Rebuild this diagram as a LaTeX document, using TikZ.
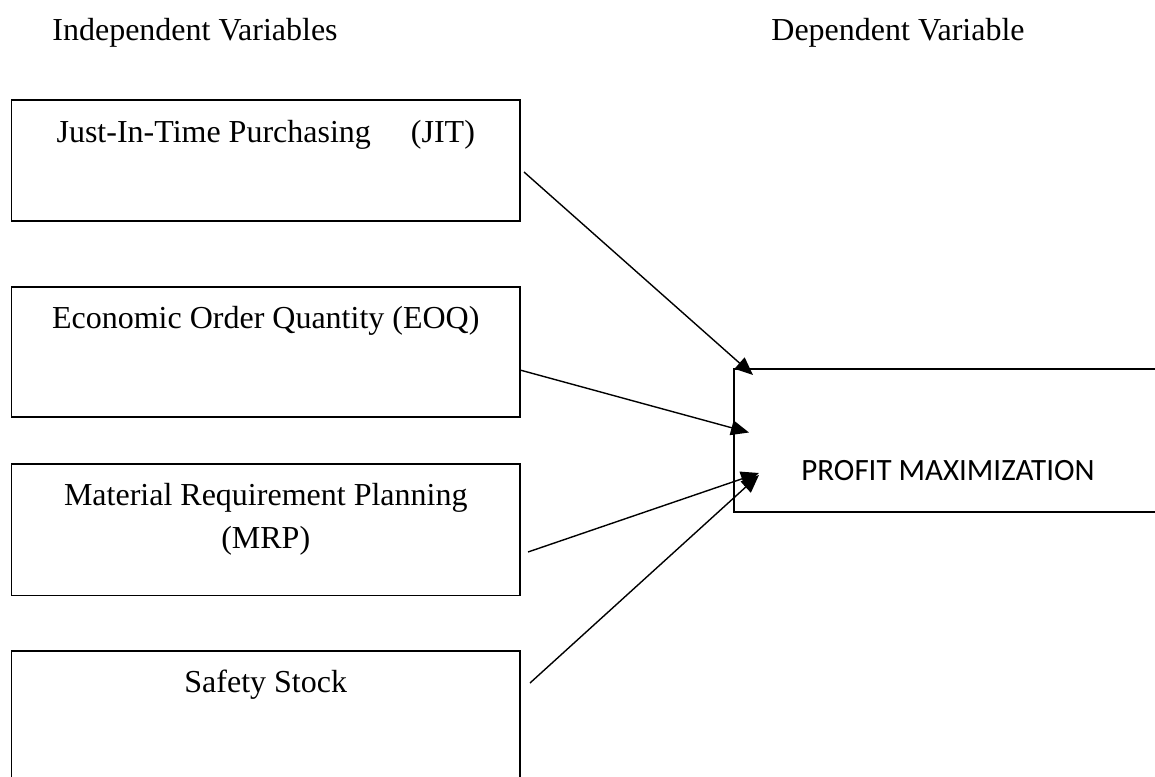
\documentclass[tikz,border=0pt]{standalone}
\usepackage{fontspec}
\setmainfont{Liberation Serif}
\newfontfamily\calibrifont{Carlito}
\usetikzlibrary{arrows.meta}
\begin{document}
\begin{tikzpicture}[x=0.5pt,y=-0.5pt,
  box/.style={draw, line width=0.8pt, minimum width=254.25pt, inner sep=0pt},
  lbl/.style={font=\fontsize{16}{21.5}\selectfont, anchor=base, inner sep=0pt, align=center},
  arr/.style={line width=0.7pt, -{Triangle[length=9pt,width=7.5pt]}}]
\clip (0,0) rectangle (1155,776);
\fill[white] (0,0) rectangle (1155,776);
% headers
\node[lbl, anchor=base west] (iv) at (52,40) {Independent Variables};
\node[lbl, anchor=base west] (dv) at (771,40) {Dependent Variable};
% left boxes
\node[box, minimum height=60.5pt] (jit) at (265.75,160.5) {};
\node[box, minimum height=65pt] (eoq) at (265.75,352) {};
\node[box, minimum height=65.75pt] (mrp) at (265.75,529.75) {};
\node[box, minimum height=65.5pt] (ss) at (265.75,716.5) {};
\node[lbl] (jitt) at (265.75,142) {Just-In-Time Purchasing\ \ \ \ \ (JIT)};
\node[lbl] (eoqt) at (265.75,328) {Economic Order Quantity (EOQ)};
\node[lbl] (mrpt) at (265.75,548) {Material Requirement Planning\\(MRP)};
\node[lbl] (sst) at (265.75,692) {Safety Stock};
% profit box
\node[draw, line width=0.8pt, minimum width=218pt, minimum height=71.5pt, inner sep=0pt] (pm) at (952,440.5) {};
\node[font=\calibrifont\fontsize{15.5}{18}\selectfont, anchor=base, inner sep=0pt] (pmt) at (948,480) {PROFIT MAXIMIZATION};
% arrows
\coordinate (a1) at (524,172); \coordinate (b1) at (753,375);
\coordinate (a2) at (520,370); \coordinate (b2) at (749,432.5);
\coordinate (a3) at (528,552); \coordinate (b3) at (759,473);
\coordinate (a4) at (530,683); \coordinate (b4) at (759,475);
\draw[arr] (a1) -- (b1);
\draw[arr] (a2) -- (b2);
\draw[arr] (a3) -- (b3);
\draw[arr] (a4) -- (b4);
\end{tikzpicture}
\end{document}
